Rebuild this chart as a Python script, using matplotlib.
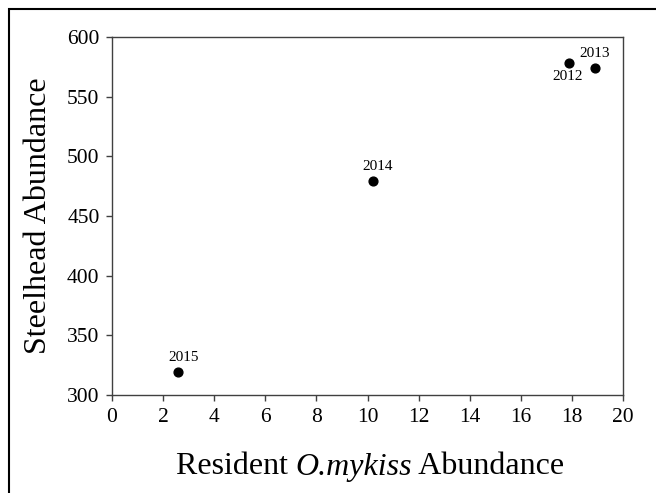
import matplotlib
matplotlib.use("Agg")
import matplotlib.pyplot as plt
from matplotlib.patches import Rectangle

years = ["2012", "2013", "2014", "2015"]
resident = [17.9, 18.9, 10.2, 2.6]
steelhead = [578, 574, 479, 319]
x_ticks = [0, 2, 4, 6, 8, 10, 12, 14, 16, 18, 20]
y_ticks = [300, 350, 400, 450, 500, 550, 600]

plt.rcParams['font.family'] = ['Liberation Serif', 'DejaVu Serif']

fig = plt.figure(figsize=(6.56, 4.93), dpi=100)
W, H = 656, 493
ax = fig.add_axes([112 / W, 1 - 395 / H, (623 - 112) / W, (395 - 37) / H])

ax.scatter(resident, steelhead, s=40, color='black', zorder=3)

offsets = {"2012": (-2, -7), "2013": (0, 8), "2014": (5, 8), "2015": (5, 8)}
for yr, x, y in zip(years, resident, steelhead):
    dx, dy = offsets[yr]
    ax.annotate(yr, (x, y), xytext=(dx, dy), textcoords='offset pixels',
                ha='center', va='bottom' if dy > 0 else 'top', fontsize=11)

ax.set_xlim(0, 20)
ax.set_ylim(300, 600)
ax.set_xticks(x_ticks)
ax.set_yticks(y_ticks)
ax.tick_params(direction='out', length=4, width=1, color='#404040', labelsize=15.5, pad=5)
for sp in ax.spines.values():
    sp.set_color('#404040')
    sp.set_linewidth(1)

ax.set_ylabel('Steelhead Abundance', fontsize=23, labelpad=10)

# x label built from pieces (italic species name)
parts = [("Resident ", "normal"), ("O.mykiss", "italic"), (" Abundance", "normal")]
fig.canvas.draw()
renderer = fig.canvas.get_renderer()
texts = []
for s, st in parts:
    t = fig.text(0, 1 - 467 / H, s, fontsize=23, fontstyle=st, va='center', ha='left')
    texts.append(t)
widths = [t.get_window_extent(renderer).width for t in texts]
total = sum(widths)
x0 = 370 - total / 2
for t, w in zip(texts, widths):
    t.set_x(x0 / W)
    x0 += w

fig.patches.append(Rectangle((8.5 / W, -0.1), 1.2, 1 - 9.5 / H + 0.1,
                             transform=fig.transFigure, fill=False,
                             edgecolor='black', linewidth=1.5))

fig.savefig('out.png', dpi=100)
